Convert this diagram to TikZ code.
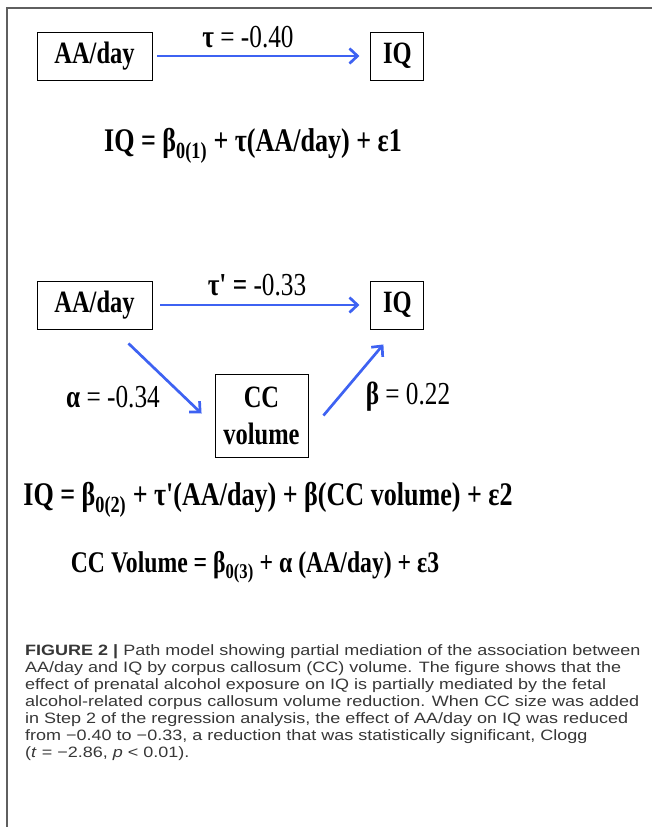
\documentclass[tikz,border=0pt]{standalone}
\usepackage{fontspec}
\setmainfont{Liberation Serif}
\setsansfont{Liberation Sans}
\newfontfamily\figserif[FakeStretch=0.79]{Liberation Serif}
\newfontfamily\capsans[FakeStretch=1.2]{Liberation Sans}
\usepackage{xcolor}
\usepackage{tikz}
\usetikzlibrary{arrows.meta,positioning,calc}

\definecolor{pathblue}{RGB}{62,98,242}
\definecolor{framegray}{RGB}{95,95,95}
\definecolor{captext}{RGB}{55,55,55}

\begin{document}
\begin{tikzpicture}[
    x=1pt, y=-1pt,
    node distance=20pt and 218pt,
    var/.style={rectangle, draw=black, line width=0.9pt, minimum height=48pt, inner sep=0pt, align=center, font=\figserif\fontsize{31}{37}\selectfont\bfseries},
    coef/.style={inner sep=0pt, font=\figserif\fontsize{32}{34}\selectfont},
    eqn/.style={inner sep=0pt, font=\figserif\fontsize{33}{36}\selectfont\bfseries},
    arr/.style={-{Straight Barb[length=8pt,width=15pt]}, line width=2.7pt, draw=pathblue}
]
    \useasboundingbox (0,0) rectangle (652,827);
    \draw [framegray, line width=1.6pt] (7,827) -- (7,8) -- (652,8);

    % total effect
    \node [var, minimum width=115pt] (aa1) at (94.5,56) {AA/day};
    \node [var, minimum width=53pt, right=218pt of aa1] (iq1) {IQ};
    \draw [arr, shorten <=5pt, shorten >=11pt] (aa1) -- (iq1);
    \node [coef] (tau1) at (248,37) {\textbf{τ} = -0.40};
    \node [eqn] (eq1) at (253,146) {IQ = β\textsubscript{0(1)} + τ(AA/day) + ε1};

    % mediation model
    \node [var, minimum width=115pt] (aa2) at (94.5,305) {AA/day};
    \node [var, minimum width=53pt, right=218pt of aa2] (iq2) {IQ};
    \node [var, minimum width=93pt, minimum height=83pt] (cc) at (261.5,415.5) {CC\\volume};
    \draw [arr, shorten <=8pt, shorten >=11pt] (aa2) -- (iq2);
    \draw [arr] ([shift={(34,14)}]aa2.south) -- ([shift={(-13,-2)}]cc.west);
    \draw [arr] ([shift={(15,0)}]cc.east) -- ([shift={(-14,15)}]iq2.south);
    \node [coef] (tau2) at (257,285) {\textbf{τ' =} -0.33};
    \node [coef] (alpha) at (113,397) {\textbf{α} = -0.34};
    \node [coef] (beta) at (408,397) {\textbf{β} = 0.22};

    \node [eqn] (eq2) at (268,500) {IQ = β\textsubscript{0(2)} + τ'(AA/day) + β(CC volume) + ε2};
    \node [eqn, font=\figserif\fontsize{30}{33}\selectfont\bfseries] (eq3) at (255,567) {CC Volume = β\textsubscript{0(3)} + α (AA/day) + ε3};

    % caption
    \node [anchor=north west, inner sep=0pt, align=left, text=captext, font=\capsans\fontsize{15}{17}\selectfont] (caption) at (25,644) {%
        \textbf{FIGURE 2 |} Path model showing partial mediation of the association between\\
        AA/day and IQ by corpus callosum (CC) volume. The figure shows that the\\
        effect of prenatal alcohol exposure on IQ is partially mediated by the fetal\\
        alcohol-related corpus callosum volume reduction. When CC size was added\\
        in Step 2 of the regression analysis, the effect of AA/day on IQ was reduced\\
        from −0.40 to −0.33, a reduction that was statistically significant, Clogg\\
        (\textit{t} = −2.86, \textit{p} < 0.01).};
\end{tikzpicture}
\end{document}
